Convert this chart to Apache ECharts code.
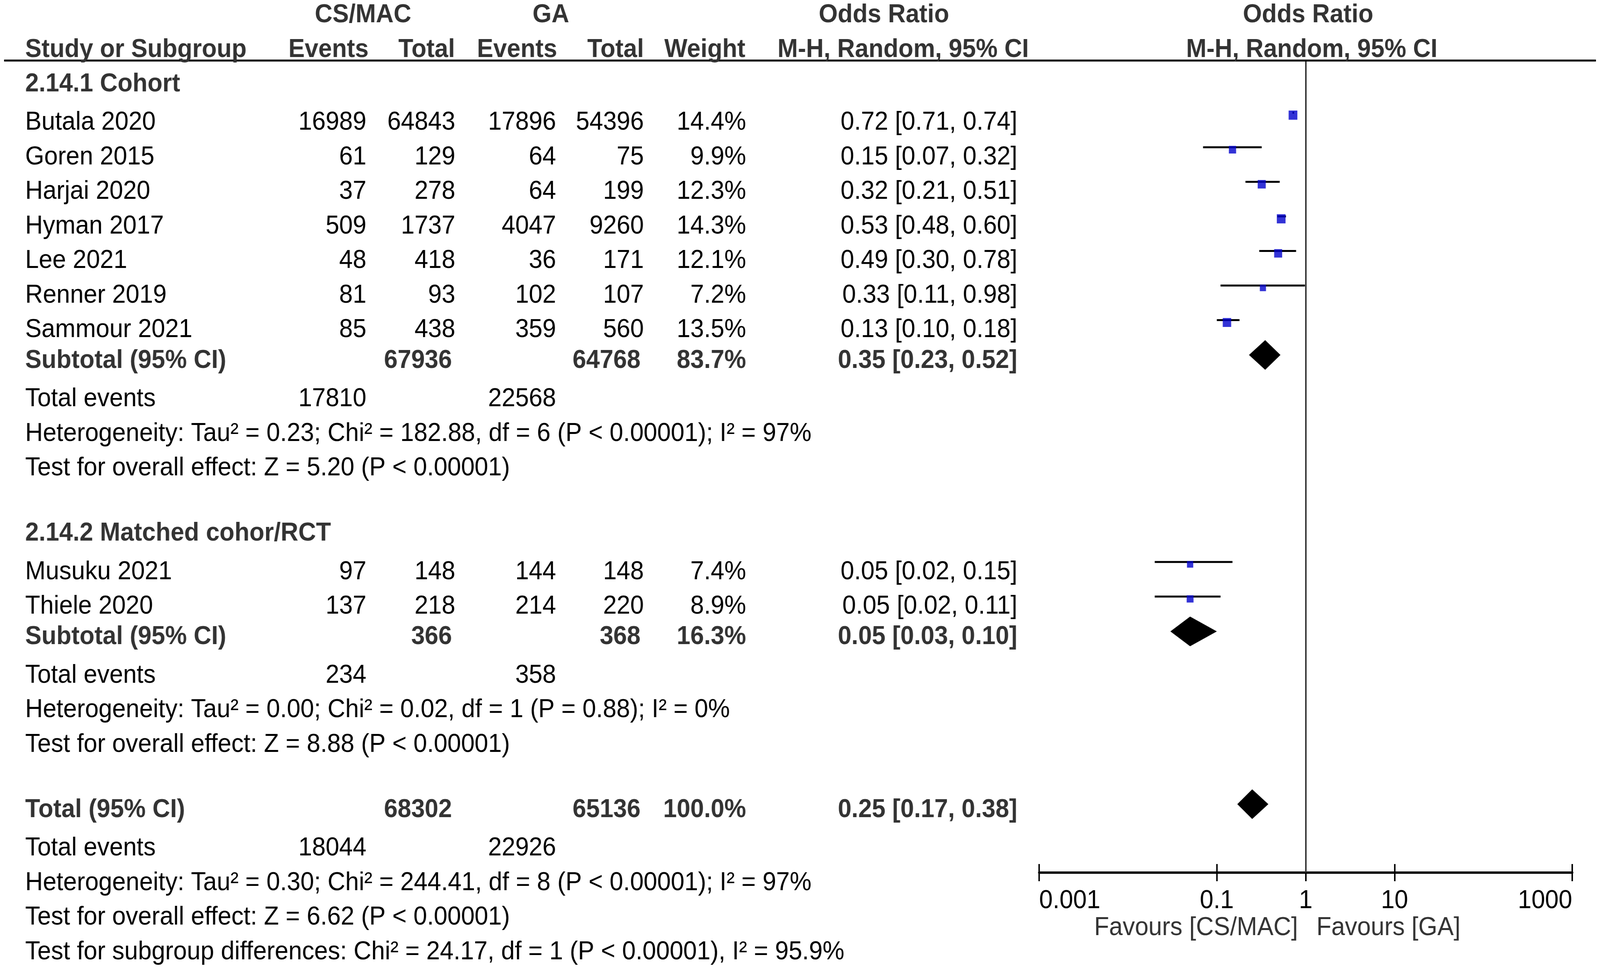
<!DOCTYPE html>
<html><head><meta charset="utf-8">
<script src="https://cdn.jsdelivr.net/npm/echarts@6/dist/echarts.min.js"></script>
<style>html,body{margin:0;padding:0;background:#fff;overflow:hidden}#c{width:4319px;height:2491px;transform-origin:0 0}</style>
</head><body><div id="c"></div>
<script>
// ---------------- DATA ----------------
const studies   = ['Butala 2020','Goren 2015','Harjai 2020','Hyman 2017','Lee 2021','Renner 2019','Sammour 2021','Musuku 2021','Thiele 2020'];
const csEvents  = [16989, 61, 37, 509, 48, 81, 85, 97, 137];
const csTotal   = [64843, 129, 278, 1737, 418, 93, 438, 148, 218];
const gaEvents  = [17896, 64, 64, 4047, 36, 102, 359, 144, 214];
const gaTotal   = [54396, 75, 199, 9260, 171, 107, 560, 148, 220];
const weights   = [14.4, 9.9, 12.3, 14.3, 12.1, 7.2, 13.5, 7.4, 8.9];
const orEst     = [0.72, 0.15, 0.32, 0.53, 0.49, 0.33, 0.13, 0.05, 0.05];
const orLow     = [0.71, 0.07, 0.21, 0.48, 0.30, 0.11, 0.10, 0.02, 0.02];
const orHigh    = [0.74, 0.32, 0.51, 0.60, 0.78, 0.98, 0.18, 0.15, 0.11];

const groupLabels   = ['2.14.1 Cohort', '2.14.2 Matched cohor/RCT'];
const pooledLabels  = ['Subtotal (95% CI)', 'Subtotal (95% CI)', 'Total (95% CI)'];
const pooledCsTotal = [67936, 366, 68302];
const pooledGaTotal = [64768, 368, 65136];
const pooledWeight  = [83.7, 16.3, 100.0];
const pooledEst     = [0.35, 0.05, 0.25];
const pooledLow     = [0.23, 0.03, 0.17];
const pooledHigh    = [0.52, 0.10, 0.38];
const totEvCs       = [17810, 234, 18044];
const totEvGa       = [22568, 358, 22926];
const hetTexts = [
  'Heterogeneity: Tau\u00b2 = 0.23; Chi\u00b2 = 182.88, df = 6 (P < 0.00001); I\u00b2 = 97%',
  'Heterogeneity: Tau\u00b2 = 0.00; Chi\u00b2 = 0.02, df = 1 (P = 0.88); I\u00b2 = 0%',
  'Heterogeneity: Tau\u00b2 = 0.30; Chi\u00b2 = 244.41, df = 8 (P < 0.00001); I\u00b2 = 97%'
];
const testTexts = [
  'Test for overall effect: Z = 5.20 (P < 0.00001)',
  'Test for overall effect: Z = 8.88 (P < 0.00001)',
  'Test for overall effect: Z = 6.62 (P < 0.00001)'
];
const subgroupText = 'Test for subgroup differences: Chi\u00b2 = 24.17, df = 1 (P < 0.00001), I\u00b2 = 95.9%';
const tickValues = [0.001, 0.1, 1, 10, 1000];
const tickLabels = ['0.001', '0.1', '1', '10', '1000'];
const favourLabels = ['Favours [CS/MAC]', 'Favours [GA]'];

// ---------------- LAYOUT (reference pixels; the page is fitted to the viewport) ----------------
const studyRow  = [1, 2, 3, 4, 5, 6, 7, 14, 15];
const groupRow  = [0, 13];
const pooledRow = [8, 16, 21];
const totEvRow  = [9, 17, 22];
const hetRow    = [10, 18, 23];
const testRow   = [11, 19, 24];
const subgroupRow = 25;

const REF_W = 4319, REF_H = 2491;
const box = document.getElementById('c');
box.style.transform = 'scale(' + (window.innerWidth / REF_W) + ',' + (window.innerHeight / REF_H) + ')';

const FONT = '"Liberation Sans", Arial, Helvetica, sans-serif';
const FS = 66;
const BOLD_SHIFT = -10;
const LEFT_X = 68;
const COL = {csE: 989, csT: 1229, gaE: 1501, gaT: 1738, w: 2014, or: 2746};
const BOLD_NUM_SHIFT = -9;

const fmtOR = (e, l, h) => e.toFixed(2) + ' [' + l.toFixed(2) + ', ' + h.toFixed(2) + ']';
const fmtW = w => w.toFixed(1) + '%';

const chart = echarts.init(box, null, {renderer: 'canvas', width: REF_W, height: REF_H});

function tickLabel(v) {
  let best = 0, bd = Infinity;
  tickValues.forEach((t, i) => { const d = Math.abs(Math.log10(v) - Math.log10(t)); if (d < bd) { bd = d; best = i; } });
  return tickLabels[best];
}

const xBase = {type: 'log', logBase: 10, min: 0.001, max: 1000, gridIndex: 0, position: 'bottom', splitLine: {show: false}};

const option = {
  backgroundColor: '#ffffff',
  animation: false,
  grid: {left: 2805, right: 75, top: 155, bottom: 257, containLabel: false, outerBoundsMode: 'none'},
  xAxis: [
    Object.assign({}, xBase, {
      axisLine: {show: true, onZero: false, lineStyle: {color: '#000', width: 6}},
      axisTick: {show: true, customValues: tickValues, length: 22, lineStyle: {color: '#000', width: 4}},
      axisLabel: {show: true, customValues: tickValues, formatter: tickLabel, margin: 40,
        fontSize: FS, fontFamily: FONT, color: '#000', alignMinLabel: 'left', alignMaxLabel: 'right'}
    }),
    Object.assign({}, xBase, {
      axisLine: {show: false, onZero: false},
      axisTick: {show: true, inside: true, customValues: tickValues, length: 22, lineStyle: {color: '#000', width: 4}},
      axisLabel: {show: false}
    })
  ],
  yAxis: {type: 'value', inverse: true, min: -0.8, max: 22.7, show: false, splitLine: {show: false}},
  series: [
    {
      name: 'ci', type: 'custom', xAxisIndex: 0, yAxisIndex: 0, silent: true,
      encode: {x: [0, 1], y: 2},
      data: studies.map((st, i) => [orLow[i], orHigh[i], studyRow[i] - 0.29]),
      renderItem: function (params, api) {
        const p1 = api.coord([api.value(0), api.value(2)]);
        const p2 = api.coord([api.value(1), api.value(2)]);
        return {type: 'line', shape: {x1: p1[0], y1: p1[1], x2: p2[0], y2: p2[1]}, style: {stroke: '#000', lineWidth: 5}};
      },
      z: 2
    },
    {
      name: 'study', type: 'scatter', xAxisIndex: 0, yAxisIndex: 0, silent: true,
      symbol: 'rect',
      symbolSize: function (val, params) { return 6.2 * Math.sqrt(weights[params.dataIndex]); },
      itemStyle: {color: '#0000CC'},
      data: studies.map((st, i) => [orEst[i], studyRow[i] - 0.22]),
      z: 3,
      markLine: {
        silent: true, symbol: 'none', animation: false,
        label: {show: false},
        lineStyle: {color: '#333', width: 4, type: 'solid'},
        data: [{xAxis: 1}]
      }
    },
    {
      name: 'pooled', type: 'custom', xAxisIndex: 0, yAxisIndex: 0, silent: true,
      encode: {x: [0, 1, 2], y: 3},
      data: pooledEst.map((e, i) => [pooledLow[i], pooledHigh[i], e, pooledRow[i] - 0.28]),
      renderItem: function (params, api) {
        const y = api.value(3);
        const l = api.coord([api.value(0), y]);
        const h = api.coord([api.value(1), y]);
        const m = api.coord([api.value(2), y]);
        const hh = 38;
        return {type: 'polygon', shape: {points: [[l[0], l[1]], [m[0], m[1] - hh], [h[0], h[1]], [m[0], m[1] + hh]]}, style: {fill: '#000'}};
      },
      z: 3
    }
  ]
};
chart.setOption(option);

// ---------------- TABLE TEXT ----------------
const Y = k => chart.convertToPixel({yAxisIndex: 0}, k);
const els = [];
function txt(str, x, y, align, bold, color) {
  els.push({type: 'text', x: x, y: y, silent: true, z: 10,
    style: {text: str, fontSize: FS, fontFamily: FONT, fontWeight: bold ? 'bold' : 'normal',
      fill: color || (bold ? '#333333' : '#000000'), align: align, verticalAlign: 'middle'}});
}
// headers
const h1 = Y(-2) + BOLD_SHIFT, h2 = Y(-1) + BOLD_SHIFT;
txt('CS/MAC', 980, h1, 'center', true);
txt('GA', 1487, h1, 'center', true);
txt('Odds Ratio', 2386, h1, 'center', true);
txt('Odds Ratio', 3531, h1, 'center', true);
txt('Study or Subgroup', LEFT_X, h2, 'left', true);
txt('Events', 995, h2, 'right', true);
txt('Total', 1228, h2, 'right', true);
txt('Events', 1504, h2, 'right', true);
txt('Total', 1738, h2, 'right', true);
txt('Weight', 2012, h2, 'right', true);
txt('M-H, Random, 95% CI', 2438, h2, 'center', true);
txt('M-H, Random, 95% CI', 3541, h2, 'center', true);
els.push({type: 'line', silent: true, z: 9, shape: {x1: 11, y1: Y(-0.8), x2: 4308, y2: Y(-0.8)}, style: {stroke: '#000', lineWidth: 5}});

groupLabels.forEach((g, i) => txt(g, LEFT_X, Y(groupRow[i]) + BOLD_SHIFT, 'left', true));
studies.forEach((st, i) => {
  const y = Y(studyRow[i]);
  txt(st, LEFT_X, y, 'left', false);
  txt(String(csEvents[i]), COL.csE, y, 'right', false);
  txt(String(csTotal[i]), COL.csT, y, 'right', false);
  txt(String(gaEvents[i]), COL.gaE, y, 'right', false);
  txt(String(gaTotal[i]), COL.gaT, y, 'right', false);
  txt(fmtW(weights[i]), COL.w, y, 'right', false);
  txt(fmtOR(orEst[i], orLow[i], orHigh[i]), COL.or, y, 'right', false);
});
pooledLabels.forEach((p, i) => {
  const y = Y(pooledRow[i]) + BOLD_SHIFT;
  txt(p, LEFT_X, y, 'left', true);
  txt(String(pooledCsTotal[i]), COL.csT + BOLD_NUM_SHIFT, y, 'right', true);
  txt(String(pooledGaTotal[i]), COL.gaT + BOLD_NUM_SHIFT, y, 'right', true);
  txt(fmtW(pooledWeight[i]), COL.w, y, 'right', true);
  txt(fmtOR(pooledEst[i], pooledLow[i], pooledHigh[i]), COL.or, y, 'right', true);
});
totEvCs.forEach((v, i) => {
  const y = Y(totEvRow[i]);
  txt('Total events', LEFT_X, y, 'left', false);
  txt(String(v), COL.csE, y, 'right', false);
  txt(String(totEvGa[i]), COL.gaE, y, 'right', false);
});
hetTexts.forEach((t, i) => txt(t, LEFT_X, Y(hetRow[i]), 'left', false));
testTexts.forEach((t, i) => txt(t, LEFT_X, Y(testRow[i]), 'left', false));
txt(subgroupText, LEFT_X, Y(subgroupRow), 'left', false);

// favours labels under the axis
const x1 = chart.convertToPixel({xAxisIndex: 0}, 1);
const axisY = Y(22.7);
txt(favourLabels[0], x1 - 21, axisY + 142, 'right', false, '#333333');
txt(favourLabels[1], x1 + 29, axisY + 142, 'left', false, '#333333');

chart.setOption({graphic: els});
</script>
</body></html>
